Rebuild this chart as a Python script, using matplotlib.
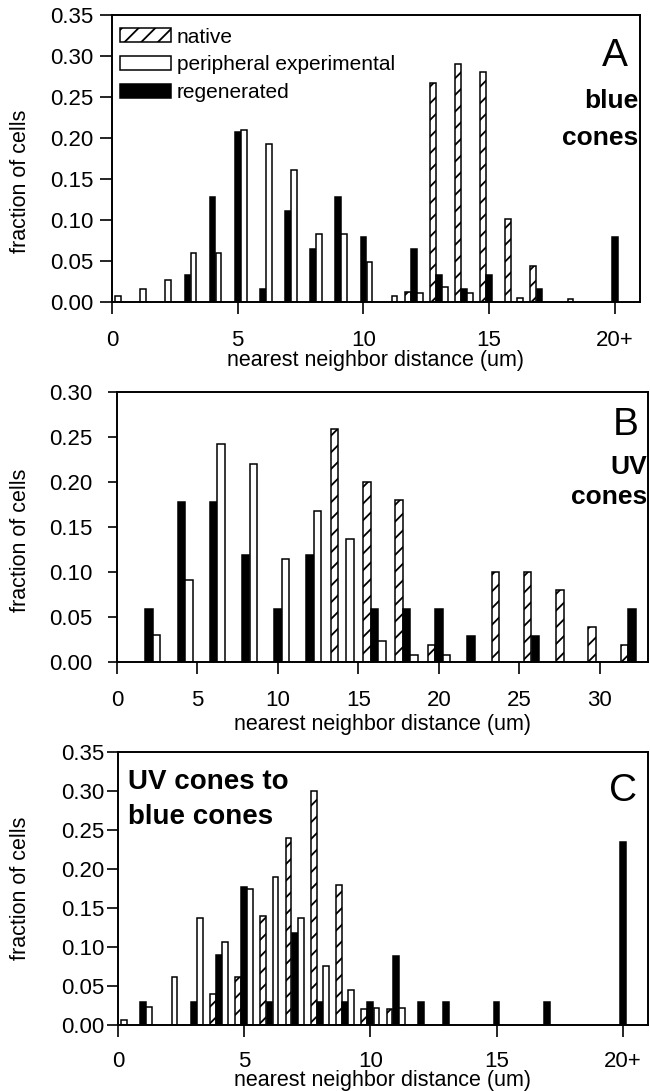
import numpy as np
import matplotlib
matplotlib.use("Agg")
import matplotlib.pyplot as plt
from matplotlib.patches import Patch

plt.rcParams['font.family'] = ['Liberation Sans', 'DejaVu Sans']
plt.rcParams['hatch.linewidth'] = 1.3

# panel A: blue cones, bins 0..20 (20 = 20+)
bins_a = list(range(21))
native_a = [0, 0, 0, 0, 0, 0, 0, 0, 0, 0, 0, 0, 0.012, 0.267, 0.29, 0.28, 0.101, 0.044, 0, 0, 0]
periph_a = [0.007, 0.015, 0.027, 0.060, 0.060, 0.210, 0.192, 0.161, 0.082, 0.082, 0.048,
            0.007, 0.011, 0.018, 0.011, 0, 0.004, 0, 0.003, 0, 0]
regen_a = [0, 0, 0, 0.032, 0.128, 0.207, 0.016, 0.111, 0.064, 0.128, 0.079,
           0, 0.064, 0.032, 0.016, 0.032, 0, 0.016, 0, 0, 0.079]

# panel B: UV cones, bins 2..32
bins_b = list(range(2, 33, 2))
native_b = [0, 0, 0, 0, 0, 0, 0.259, 0.200, 0.180, 0.019, 0, 0.100, 0.100, 0.080, 0.039, 0.019]
periph_b = [0.030, 0.091, 0.242, 0.220, 0.114, 0.167, 0.136, 0.023, 0.007, 0.007, 0, 0, 0, 0, 0, 0]
regen_b = [0.059, 0.177, 0.177, 0.118, 0.059, 0.118, 0, 0.059, 0.059, 0.059, 0.029, 0, 0.029, 0, 0, 0.059]

# panel C: UV cones to blue cones, bins 0..20 (20 = 20+)
bins_c = list(range(21))
native_c = [0, 0, 0, 0, 0.040, 0.061, 0.140, 0.240, 0.300, 0.180, 0.020, 0.020, 0, 0, 0, 0, 0, 0, 0, 0, 0]
periph_c = [0.007, 0.023, 0.061, 0.137, 0.107, 0.175, 0.190, 0.137, 0.076, 0.045, 0.022, 0.022,
            0, 0, 0, 0, 0, 0, 0, 0, 0]
regen_c = [0, 0.030, 0, 0.030, 0.090, 0.177, 0.030, 0.118, 0.030, 0.030, 0.030, 0.089,
           0.030, 0.030, 0, 0.030, 0, 0.030, 0, 0, 0.235]

xt_a = [0, 5, 10, 15, 20]
xl_a = ['0', '5', '10', '15', '20+']
xt_b = [0, 5, 10, 15, 20, 25, 30]
xl_b = ['0', '5', '10', '15', '20', '25', '30']

TFS = 16    # tick labels
LFS = 15.5  # axis labels
fig = plt.figure(figsize=(6.5, 10.91), dpi=100)
ax1 = fig.add_axes([0.1723, 0.7235, 0.8123, 0.2628])
ax2 = fig.add_axes([0.1800, 0.3935, 0.8169, 0.2475])
ax3 = fig.add_axes([0.1815, 0.0605, 0.8154, 0.2502])


def draw(ax, bins, nat, per, reg, off, w):
    x = np.array(bins, dtype=float)
    nat = np.array(nat); per = np.array(per); reg = np.array(reg)
    m = nat > 0
    ax.bar(x[m] - off, nat[m], w, color='white', edgecolor='black', hatch='//', lw=1.1)
    m = reg > 0
    ax.bar(x[m], reg[m], w, color='black', edgecolor='black', lw=1.1)
    m = per > 0
    ax.bar(x[m] + off, per[m], w, color='white', edgecolor='black', lw=1.1)


def style(ax, ymax, xmax, xt, xl, ylen, ypad, xpad, xlpad, ylab_x, ylab_y):
    ax.set_xlim(0, xmax)
    ax.set_ylim(0, ymax)
    yt = np.arange(0, ymax + 0.001, 0.05)
    ax.set_yticks(yt)
    ax.set_yticklabels(['%.2f' % v for v in yt])
    ax.set_xticks(xt)
    ax.set_xticklabels(xl)
    ax.tick_params(axis='both', direction='out', labelsize=TFS, width=1.2)
    ax.tick_params(axis='x', length=8.6, pad=xpad)
    ax.tick_params(axis='y', length=ylen, pad=ypad)
    for s in ax.spines.values():
        s.set_linewidth(1.4)
    ax.set_xlabel('nearest neighbor distance (um)', fontsize=LFS, labelpad=xlpad)
    ax.set_ylabel('fraction of cells', fontsize=LFS)
    ax.yaxis.set_label_coords(ylab_x, ylab_y)


# ---- A
draw(ax1, bins_a, native_a, periph_a, regen_a, 0.24, 0.23)
style(ax1, 0.35, 21, xt_a, xl_a, 8.6, 5, 12, -1, -0.153, 0.42)
ax1.text(20, 0.30, 'A', fontsize=28, ha='center', va='center')
ax1.text(20.95, 0.245, 'blue', fontsize=19, fontweight='bold', ha='right', va='center')
ax1.text(20.95, 0.200, 'cones', fontsize=19, fontweight='bold', ha='right', va='center')
handles = [Patch(facecolor='white', edgecolor='black', hatch='//', lw=1.1),
           Patch(facecolor='white', edgecolor='black', lw=1.1),
           Patch(facecolor='black', edgecolor='black', lw=1.1)]
ax1.legend(handles, ['native', 'peripheral experimental', 'regenerated'], loc='upper left',
           bbox_to_anchor=(0.0, 0.985), frameon=False, fontsize=15, handlelength=2.45,
           handleheight=0.65, labelspacing=0.42, handletextpad=0.25, borderaxespad=0.0,
           borderpad=0.4)

# ---- B
draw(ax2, bins_b, native_b, periph_b, regen_b, 0.47, 0.46)
style(ax2, 0.30, 33, xt_b, xl_b, 6.5, 11, 12, 2, -0.162, 0.45)
ax2.text(31.6, 0.263, 'B', fontsize=28, ha='center', va='center')
ax2.text(32.95, 0.216, 'UV', fontsize=19, fontweight='bold', ha='right', va='center')
ax2.text(32.95, 0.183, 'cones', fontsize=19, fontweight='bold', ha='right', va='center')

# ---- C
draw(ax3, bins_c, native_c, periph_c, regen_c, 0.24, 0.23)
style(ax3, 0.35, 21, xt_a, xl_a, 8, 1.5, 10, -1, -0.164, 0.5)
ax3.text(20, 0.30, 'C', fontsize=28, ha='center', va='center')
ax3.text(0.4, 0.311, 'UV cones to', fontsize=20, fontweight='bold', ha='left', va='center')
ax3.text(0.4, 0.267, 'blue cones', fontsize=20, fontweight='bold', ha='left', va='center')

fig.savefig('out.png', dpi=100)
